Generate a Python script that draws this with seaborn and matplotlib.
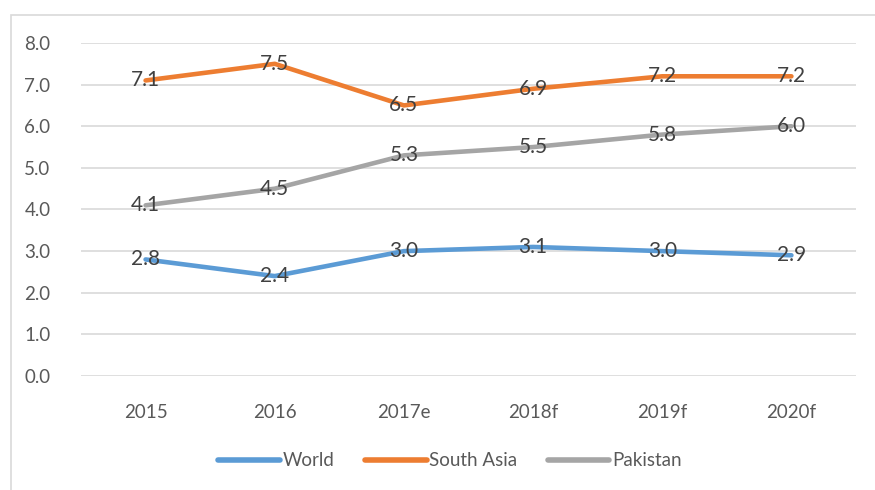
import pandas as pd
import matplotlib.pyplot as plt
import matplotlib.patches as mpatches
import seaborn as sns

# chart data
years = ['2015', '2016', '2017e', '2018f', '2019f', '2020f']
world = [2.8, 2.4, 3.0, 3.1, 3.0, 2.9]
south_asia = [7.1, 7.5, 6.5, 6.9, 7.2, 7.2]
pakistan = [4.1, 4.5, 5.3, 5.5, 5.8, 6.0]
series_names = ['World', 'South Asia', 'Pakistan']
colors = ['#5B9BD5', '#ED7D31', '#A5A5A5']

sns.set_theme(style='white')
plt.rcParams['font.family'] = ['Lato', 'DejaVu Sans']

df = pd.DataFrame({
    'pos': list(range(len(years))) * 3,
    'value': world + south_asia + pakistan,
    'series': [n for n in series_names for _ in years],
})

fig = plt.figure(figsize=(8.75, 4.9), dpi=100)
ax = fig.add_axes([81/875, 1-376/490, (856-81)/875, (376-43)/490])

sns.lineplot(data=df, x='pos', y='value', hue='series', hue_order=series_names,
             palette=colors, linewidth=3.3, ax=ax, legend=True, zorder=3)

# data labels centered on points
for vals in [world, south_asia, pakistan]:
    for i, v in enumerate(vals):
        ax.text(i, v, f'{v:.1f}', ha='center', va='center', fontsize=15,
                color='#404040', zorder=4)

ax.set_xlim(-0.5, len(years) - 0.5)
ax.set_ylim(0, 8)
ax.set_yticks([i for i in range(9)])
ax.set_yticklabels([f'{i:.1f}' for i in range(9)])
ax.set_xticks(range(len(years)))
ax.set_xticklabels(years)
ax.tick_params(axis='y', length=0, pad=22, labelsize=13.5, labelcolor='#595959')
ax.tick_params(axis='x', length=0, pad=20, labelsize=13.5, labelcolor='#595959')
ax.yaxis.grid(True, color='#D9D9D9', linewidth=1.2, zorder=0)
ax.set_xlabel('')
ax.set_ylabel('')
for s in ax.spines.values():
    s.set_visible(False)

handles, labels = ax.get_legend_handles_labels()
ax.get_legend().remove()
for h in handles:
    h.set_linewidth(4)
    h.set_solid_capstyle('round')
fig.legend(handles, labels, loc='center', bbox_to_anchor=(450/875, 1-461/490),
           ncol=3, frameon=False, fontsize=13.5, handlelength=3.3,
           handletextpad=0.15, columnspacing=1.6, labelcolor='#595959')

# outer chart border
fig.patches.append(mpatches.Rectangle((11/875, -0.1), 1.0, 1 - 15/490 + 0.1,
                                      transform=fig.transFigure, fill=False,
                                      edgecolor='#D9D9D9', linewidth=1.2))

fig.savefig('out.png', dpi=100)
